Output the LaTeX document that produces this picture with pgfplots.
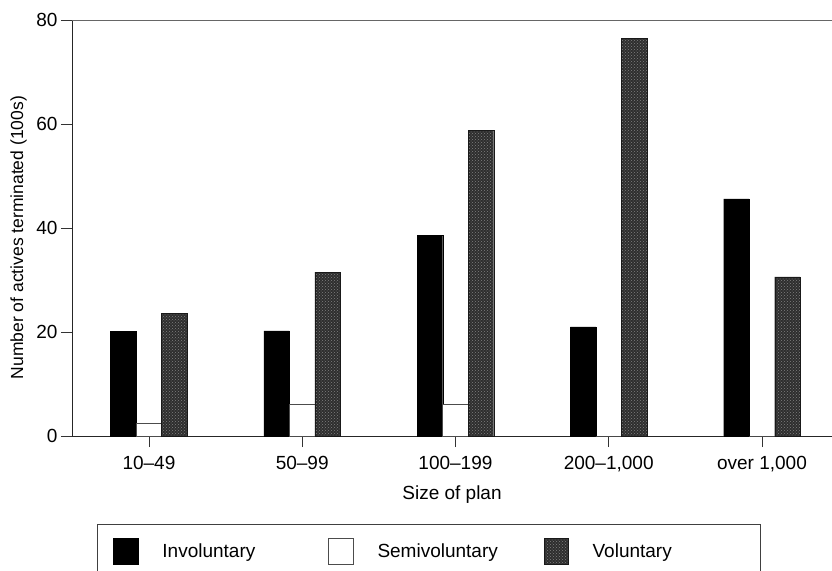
\documentclass[border=0pt]{standalone}
\usepackage{fontspec}
\setmainfont{Liberation Sans}
\usepackage{pgfplots}
\usepackage{pgfplotstable}
\pgfplotsset{compat=1.18}
\usetikzlibrary{patterns}

% terminations by plan size, in 100s
\pgfplotstableread{
x  inv   semi  vol
0  20.1  2.5   23.6
1  20.2  6.1   31.5
2  38.6  6.1   58.8
3  21.0  0     76.5
4  45.6  0     30.6
}\termdata

\newcommand{\chartfont}{\fontsize{19}{22}\selectfont}

\begin{document}
\begin{tikzpicture}
\useasboundingbox (0,0) rectangle (832pt,570pt);
\begin{axis}[
  at={(72pt,134pt)}, anchor=south west,
  width=760pt, height=416pt, scale only axis,
  xmin=-0.502, xmax=4.457, ymin=0, ymax=80,
  clip=false,
  ybar=0pt, bar width=25.5pt,
  axis x line*=bottom, axis y line*=left,
  axis line style={-, black!85, line width=0.7pt},
  tick align=outside, major tick length=11pt,
  tick style={black!80, line width=0.6pt},
  xtick=data,
  xticklabels={{10\textendash 49},{50\textendash 99},{100\textendash 199},{200\textendash 1,000},{over 1,000}},
  ytick={0,20,40,60,80},
  /pgf/number format/assume math mode=true,
  tick label style={font=\chartfont},
  xticklabel style={yshift=-6pt},
  xlabel={Size of plan},
  xlabel style={font=\chartfont, at={(axis description cs:0.5,0)}, anchor=north, inner sep=0pt, yshift=-50pt},
  ylabel={Number of actives terminated (100s)},
  ylabel style={font=\fontsize{17.5}{20}\selectfont, at={(axis description cs:-0.0704,0.477)}, anchor=center},
  legend columns=3,
  legend cell align=left,
  legend image code/.code={\draw[#1] (0pt,-12.75pt) rectangle (24.5pt,12.75pt);},
  legend style={at={(axis description cs:0.0329,-0.2115)}, anchor=north west,
    draw=black!75, line width=0.6pt, inner xsep=16pt, inner ysep=13.75pt,
    font=\chartfont, nodes={inner sep=0pt},
    /tikz/every odd column/.append style={column sep=24pt},
    /tikz/every even column/.append style={column sep=46pt}},
]
\addplot[fill=black, draw=black] table[x=x, y=inv] {\termdata};
\addlegendentry{\makebox[120pt][l]{Involuntary}}
\addplot[fill=white, draw=black!70, line width=0.6pt] table[x=x, y=semi] {\termdata};
\addlegendentry{\makebox[120pt][l]{Semivoluntary}}
\addplot[fill=black!82, draw=black!90, postaction={pattern=crosshatch dots, pattern color=black!50}] table[x=x, y=vol] {\termdata};
\addlegendentry{\makebox[152pt][l]{Voluntary}}
\draw[black!60, line width=0.6pt] (rel axis cs:0,1) -- (rel axis cs:1,1);
\end{axis}
\end{tikzpicture}
\end{document}
